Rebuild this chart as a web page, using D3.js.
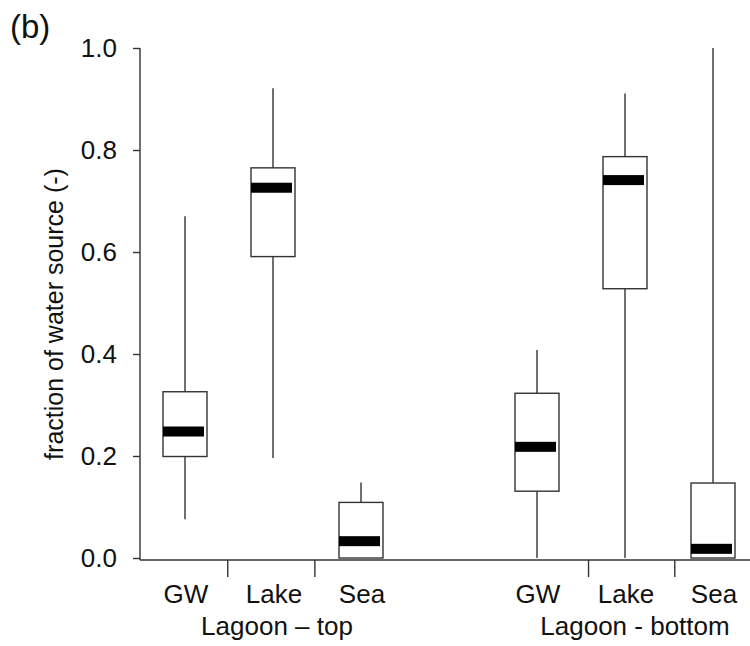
<!DOCTYPE html>
<html>
<head>
<meta charset="utf-8">
<script src="https://cdn.jsdelivr.net/npm/d3@7"></script>
<style>
  body { margin: 0; background: #fff; }
  text { font-family: "Liberation Sans", Arial, sans-serif; fill: #111; }
</style>
</head>
<body>
<svg id="chart" width="750" height="646"></svg>
<script>
// data
var groups = ["Lagoon \u2013 top", "Lagoon - bottom"];
var sources = ["GW", "Lake", "Sea"];
var slots = [0, 1, 2, 4, 5, 6];          // box slot on the category axis
var whiskerLow  = [0.076, 0.196, 0.0,   0.0,   0.0,   0.0];
var q1          = [0.199, 0.591, 0.0,   0.131, 0.528, 0.0];
var median      = [0.248, 0.726, 0.033, 0.218, 0.741, 0.018];
var q3          = [0.326, 0.765, 0.109, 0.323, 0.787, 0.147];
var whiskerHigh = [0.670, 0.921, 0.148, 0.408, 0.911, 1.0];
var separators = [0.48, 1.47, 4.58, 5.56];   // tick marks between categories
var yTicks = [0, 0.2, 0.4, 0.6, 0.8, 1.0];

(function(){
    var svg = d3.select('#chart');
    var ink = '#333';

    var x = d3.scaleLinear().domain([-0.5, 6.5]).range([141, 757]);
    var y = d3.scaleLinear().domain([0, 1]).range([558, 48]);
    var boxW = x(0.5) - x(0);

    var boxes = slots.map(function(s, i){
        return {
            slot: s,
            src: sources[i % 3],
            lo: whiskerLow[i], q1: q1[i], med: median[i], q3: q3[i], hi: whiskerHigh[i]
        };
    });

    // y axis
    var yAxis = svg.append('g')
        .attr('transform', 'translate(140,0)')
        .call(d3.axisLeft(y).tickValues(yTicks).tickFormat(d3.format('.1f'))
            .tickSize(7).tickSizeOuter(0).tickPadding(16));
    yAxis.select('.domain').attr('stroke', ink).attr('stroke-width', 1.4)
        .attr('d', 'M0,' + y(1) + 'V560');
    yAxis.selectAll('.tick line').attr('stroke', ink).attr('stroke-width', 1.4);
    yAxis.selectAll('.tick text').style('font-size', '26px').attr('fill', '#111');

    // x axis: only separator ticks
    var xAxis = svg.append('g')
        .attr('transform', 'translate(0,560)')
        .call(d3.axisBottom(x).tickValues(separators).tickFormat('')
            .tickSize(17).tickSizeOuter(0));
    xAxis.select('.domain').attr('stroke', ink).attr('stroke-width', 1.4)
        .attr('d', 'M140,0H750');
    xAxis.selectAll('.tick line').attr('stroke', ink).attr('stroke-width', 1.4);

    // whiskers
    svg.selectAll('.whisker').data(boxes).enter().append('line')
        .attr('class', 'whisker')
        .attr('x1', function(d){ return x(d.slot); })
        .attr('x2', function(d){ return x(d.slot); })
        .attr('y1', function(d){ return y(d.lo); })
        .attr('y2', function(d){ return y(d.hi); })
        .attr('stroke', ink).attr('stroke-width', 1.4);

    // boxes
    svg.selectAll('.box').data(boxes).enter().append('rect')
        .attr('class', 'box')
        .attr('x', function(d){ return x(d.slot) - boxW / 2; })
        .attr('y', function(d){ return y(d.q3); })
        .attr('width', boxW)
        .attr('height', function(d){ return y(d.q1) - y(d.q3); })
        .attr('fill', '#fff').attr('stroke', ink).attr('stroke-width', 1.4);

    // median bars
    svg.selectAll('.med').data(boxes).enter().append('rect')
        .attr('class', 'med')
        .attr('x', function(d){ return x(d.slot) - boxW / 2; })
        .attr('y', function(d){ return y(d.med) - 5; })
        .attr('width', boxW - 3)
        .attr('height', 10)
        .attr('fill', '#000');

    // category labels
    svg.selectAll('.cat').data(boxes).enter().append('text')
        .attr('class', 'cat')
        .attr('x', function(d){ return x(d.slot) + 1; })
        .attr('y', 603)
        .attr('text-anchor', 'middle')
        .style('font-size', '26px')
        .text(function(d){ return d.src; });

    // group titles
    svg.selectAll('.grp').data(groups).enter().append('text')
        .attr('class', 'grp')
        .attr('x', function(d, i){ return x(i * 4 + 1) + (i ? 10 : 4); })
        .attr('y', 635)
        .attr('text-anchor', 'middle')
        .style('font-size', '26px')
        .text(function(d){ return d; });

    // y label
    svg.append('text')
        .attr('transform', 'translate(63,314) rotate(-90)')
        .attr('text-anchor', 'middle')
        .style('font-size', '25px')
        .text('fraction of water source (-)');

    // panel letter
    svg.append('text')
        .attr('x', 10).attr('y', 38)
        .style('font-size', '33px')
        .text('(b)');
})();
</script>
</body>
</html>
